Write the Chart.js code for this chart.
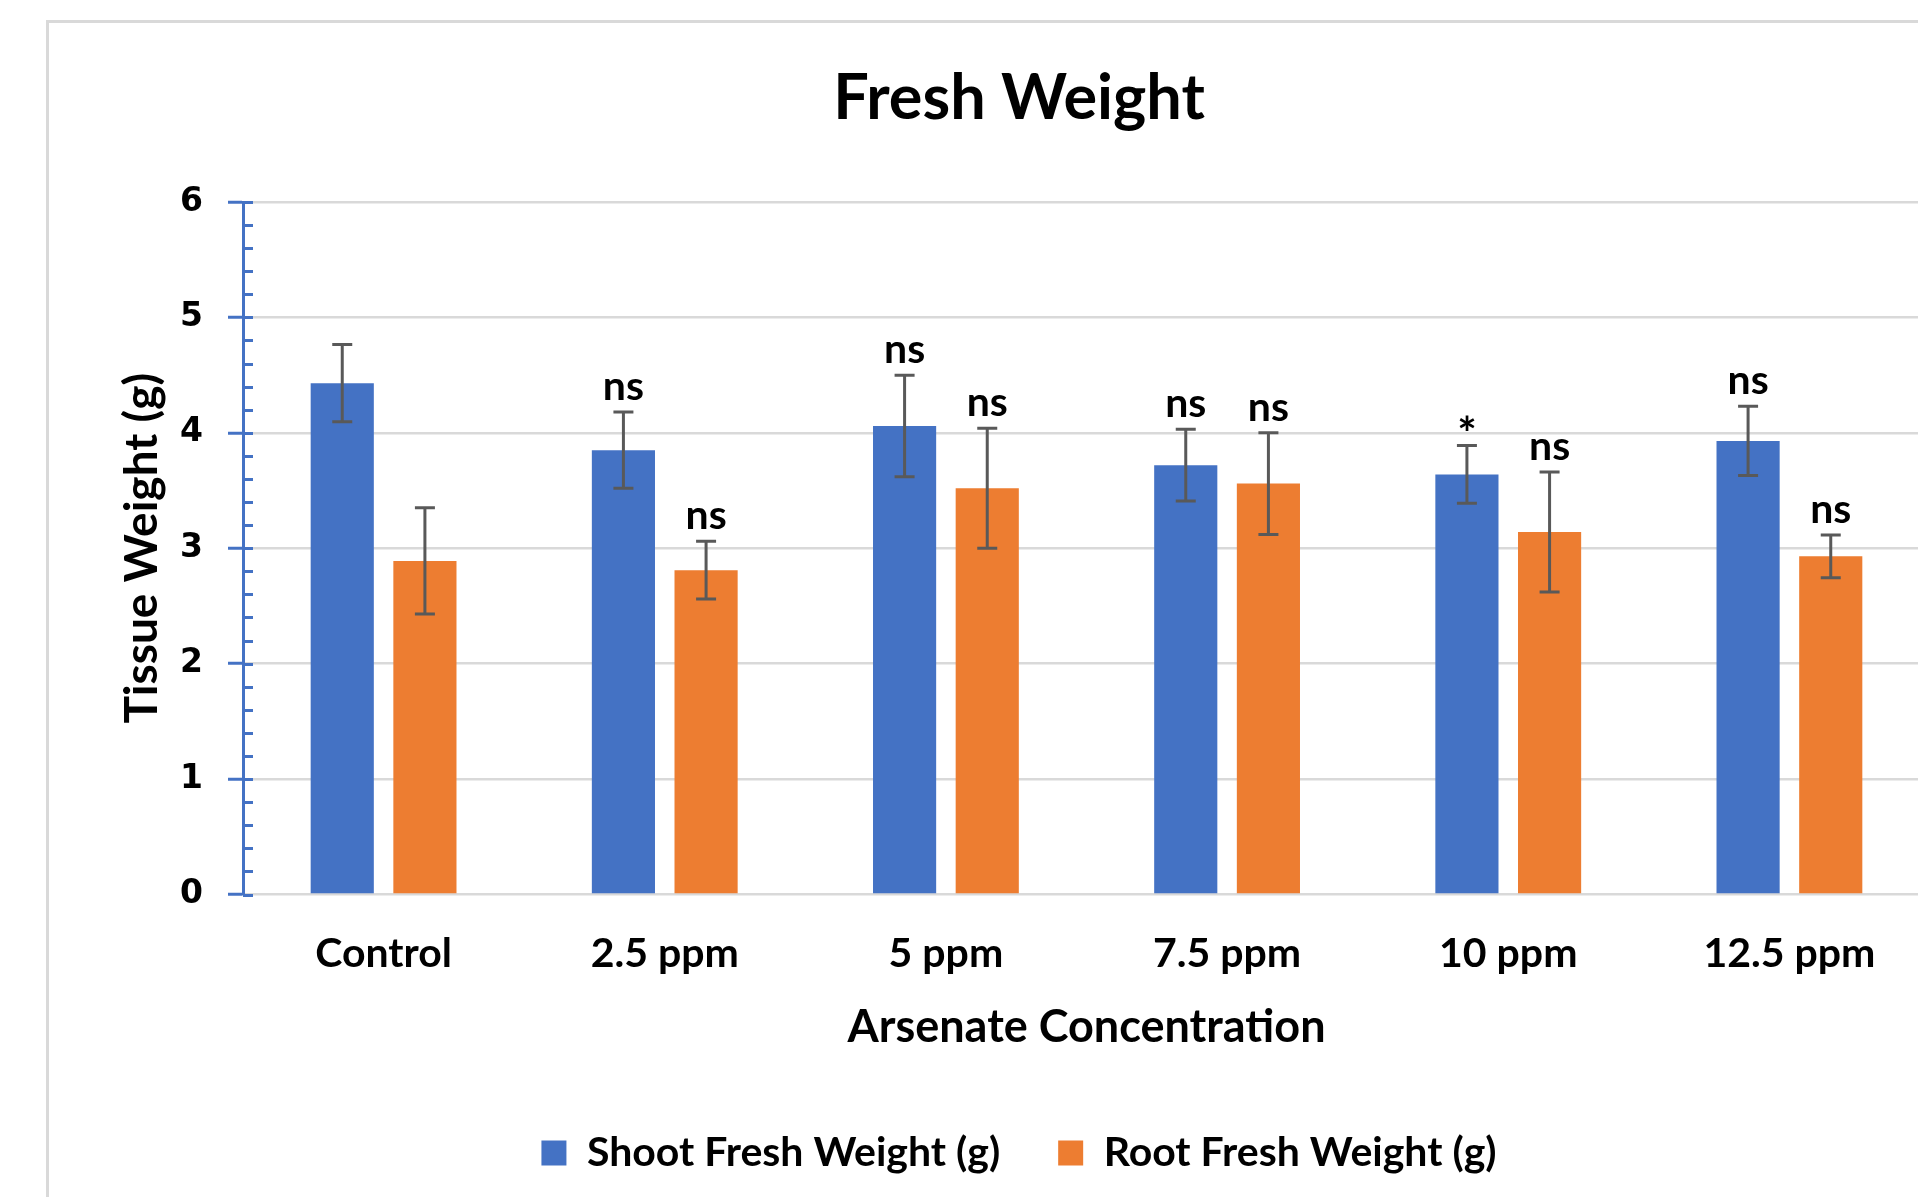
<!DOCTYPE html>
<html lang="en">
<head>
  <meta charset="UTF-8">
  <title>Fresh Weight</title>
  <script src="https://cdn.jsdelivr.net/npm/chart.js"></script>
  <style>
    html, body {
      margin: 0;
      padding: 0;
      background: #ffffff;
      overflow: hidden;
      width: 1918px;
      height: 1197px;
    }
    #frame {
      position: absolute;
      left: 46px;
      top: 20px;
      width: 1936px;
      height: 1200px;
      border-left: 3px solid #d9d9d9;
      border-top: 3px solid #d9d9d9;
    }
    canvas {
      position: absolute;
      left: 0;
      top: 0;
    }
  </style>
</head>
<body>
  <div id="frame">
    <canvas id="freshChart" width="1936" height="1174"></canvas>
  </div>

  <script>
    // values
    const categories = ['Control', '2.5 ppm', '5 ppm', '7.5 ppm', '10 ppm', '12.5 ppm'];
    const shootMean = [4.43, 3.85, 4.06, 3.72, 3.64, 3.93];
    const shootErr  = [0.335, 0.33, 0.44, 0.31, 0.25, 0.30];
    const rootMean  = [2.89, 2.81, 3.52, 3.56, 3.14, 2.93];
    const rootErr   = [0.46, 0.25, 0.52, 0.44, 0.52, 0.185];
    const shootSig  = ['', 'ns', 'ns', 'ns', '*', 'ns'];
    const rootSig   = ['', 'ns', 'ns', 'ns', 'ns', 'ns'];
    const yMin = 0, yMax = 6, yStep = 1, yMinorStep = 0.2;

    const errors = [shootErr, rootErr];
    const sigs = [shootSig, rootSig];
    const textFont = 'Lato, Carlito, Calibri, sans-serif';

    // small inner ticks on the y axis (Excel style)
    const minorTicks = {
      id: 'minorTicks',
      afterDraw(chart) {
        const y = chart.scales.y;
        const x0 = chart.chartArea.left;
        const ctx = chart.ctx;
        ctx.save();
        ctx.strokeStyle = '#4472c4';
        ctx.lineWidth = 3;
        ctx.beginPath();
        const n = Math.round((yMax - yMin) / yMinorStep);
        for (let i = 0; i <= n; i++) {
          const py = Math.round(y.getPixelForValue(yMin + i * yMinorStep)) + 0.5;
          ctx.moveTo(x0, py);
          ctx.lineTo(x0 + 10, py);
        }
        ctx.stroke();
        ctx.restore();
      }
    };

    // error bars + significance marks
    const errorBars = {
      id: 'errorBars',
      afterDatasetsDraw(chart) {
        const ctx = chart.ctx;
        const y = chart.scales.y;
        ctx.save();
        chart.data.datasets.forEach((ds, i) => {
          const meta = chart.getDatasetMeta(i);
          meta.data.forEach((bar, j) => {
            const v = ds.data[j];
            const e = errors[i][j];
            const yt = y.getPixelForValue(v + e);
            const yb = y.getPixelForValue(v - e);
            ctx.strokeStyle = '#595959';
            ctx.lineWidth = 3;
            ctx.beginPath();
            ctx.moveTo(bar.x, yt);
            ctx.lineTo(bar.x, yb);
            ctx.moveTo(bar.x - 10, yt);
            ctx.lineTo(bar.x + 10, yt);
            ctx.moveTo(bar.x - 10, yb);
            ctx.lineTo(bar.x + 10, yb);
            ctx.stroke();

            const s = sigs[i][j];
            if (s) {
              ctx.fillStyle = '#000000';
              ctx.textAlign = 'center';
              ctx.textBaseline = 'alphabetic';
              if (s === '*') {
                ctx.font = 'bold 46px ' + textFont;
                ctx.fillText(s, bar.x, yt + 4);
              } else {
                ctx.font = 'bold 41px ' + textFont;
                ctx.fillText(s, bar.x, yt - 12);
              }
            }
          });
        });
        ctx.restore();
      }
    };

    new Chart(document.getElementById('freshChart'), {
      type: 'bar',
      data: {
        labels: categories,
        datasets: [
          {
            label: 'Shoot Fresh Weight (g)',
            data: shootMean,
            backgroundColor: '#4472c4',
            categoryPercentage: 0.588,
            barPercentage: 0.764
          },
          {
            label: 'Root Fresh Weight (g)',
            data: rootMean,
            backgroundColor: '#ed7d31',
            categoryPercentage: 0.588,
            barPercentage: 0.764
          }
        ]
      },
      options: {
        responsive: false,
        animation: false,
        devicePixelRatio: 1,
        layout: { padding: { left: 59, right: 55, top: 0, bottom: 13.5 } },
        plugins: {
          tooltip: { enabled: false },
          title: {
            display: true,
            text: 'Fresh Weight',
            color: '#000000',
            font: { family: textFont, size: 63, weight: 'bold', lineHeight: 1.2 },
            padding: { top: 38, bottom: 65.4 }
          },
          legend: {
            position: 'bottom',
            labels: {
              color: '#000000',
              font: { family: textFont, size: 41, weight: 'bold' },
              boxWidth: 25,
              boxHeight: 25,
              padding: 58
            }
          }
        },
        scales: {
          x: {
            afterFit: s => { s.height = 180; },
            grid: { display: false },
            border: { display: false },
            ticks: {
              color: '#000000',
              font: { family: textFont, size: 41, weight: 'bold' },
              padding: 27
            },
            title: {
              display: true,
              text: 'Arsenate Concentration',
              color: '#000000',
              font: { family: textFont, size: 45, weight: 'bold', lineHeight: 1.2 },
              padding: { top: 0, bottom: 20.5 }
            }
          },
          y: {
            min: yMin,
            max: yMax,
            afterFit: s => { s.width = 135; },
            grid: {
              color: '#d9d9d9',
              lineWidth: 2.5,
              tickColor: '#4472c4',
              tickWidth: 3,
              tickLength: 15
            },
            border: { display: true, color: '#4472c4', width: 3 },
            ticks: {
              stepSize: yStep,
              color: '#000000',
              font: { family: 'DejaVu Sans', size: 33, weight: 'bold' },
              padding: 25
            },
            title: {
              display: true,
              text: 'Tissue Weight (g)',
              color: '#000000',
              font: { family: textFont, size: 46, weight: 'bold', lineHeight: 1.2 },
              padding: { top: 7, bottom: 0 }
            }
          }
        }
      },
      plugins: [minorTicks, errorBars]
    });
  </script>
</body>
</html>
